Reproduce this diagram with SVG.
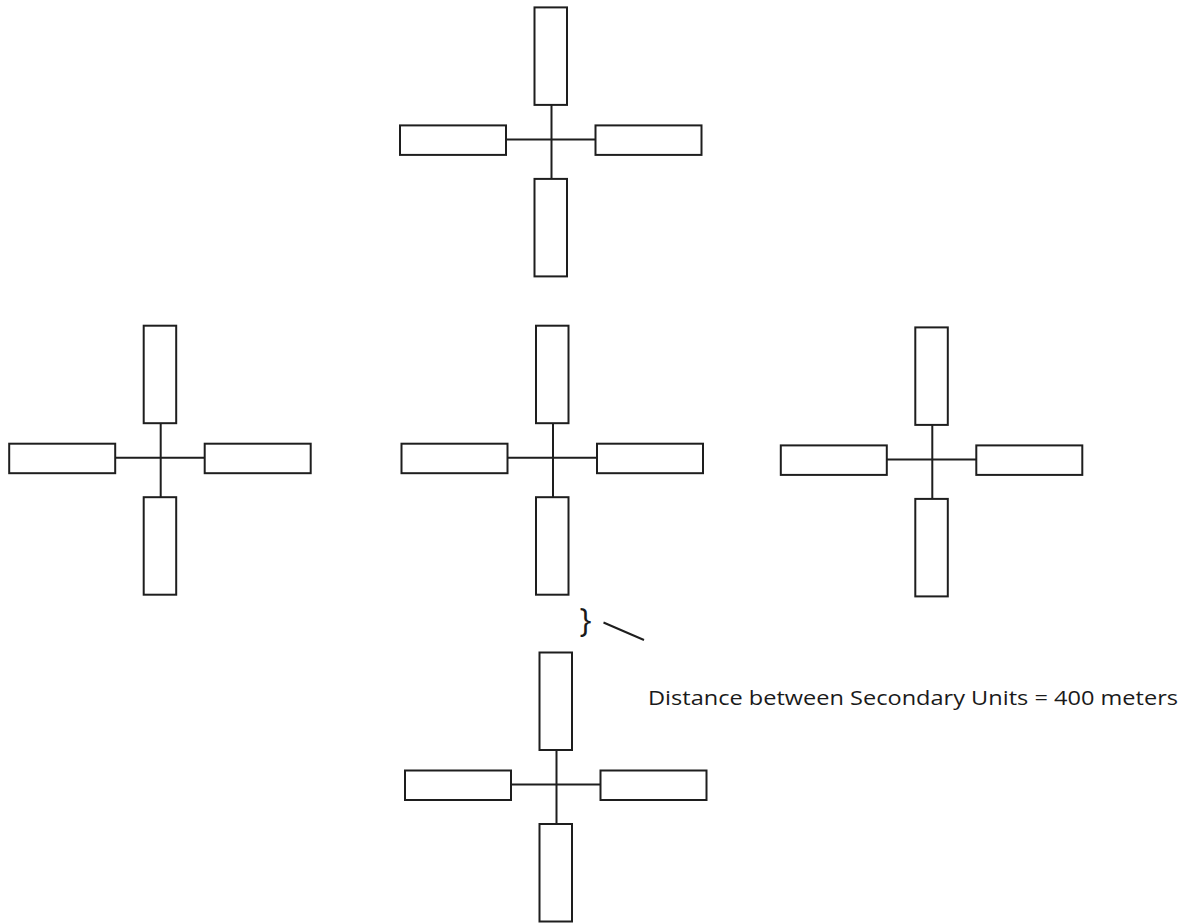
<svg xmlns="http://www.w3.org/2000/svg" width="1188" height="923" viewBox="0 0 1188 923">
  <style>
    .arm { fill: #ffffff; stroke: #1e1e1e; stroke-width: 2; }
    .link { stroke: #1e1e1e; stroke-width: 2; fill: none; }
    .label { font-family: "Open Sans", "Liberation Sans", Arial, sans-serif; fill: #1a1a1a; }
  </style>
  <defs>
    <g id="arms">
      <rect class="arm" x="-17" y="-132" width="32.5" height="97.5"/>
      <rect class="arm" x="-17" y="39.5" width="32.5" height="97.5"/>
      <rect class="arm" x="-151.5" y="-14" width="106" height="29.5"/>
      <rect class="arm" x="44" y="-14" width="106" height="29.5"/>
    </g>
    <path id="hub" d="M0,-34.5 V39.5 M-45.5,0 H44"/>
  </defs>
  <rect width="1188" height="923" fill="#ffffff"/>

  <g id="connectors">
    <use href="#hub" class="link" transform="translate(551.5,139.4)"/>
    <use href="#hub" class="link" transform="translate(160.7,457.7)"/>
    <use href="#hub" class="link" transform="translate(553,457.7)"/>
    <use href="#hub" class="link" transform="translate(932.3,459.4)"/>
    <use href="#hub" class="link" transform="translate(556.5,784.5)"/>
    <line class="link" x1="603.5" y1="622.5" x2="644" y2="640" stroke-width="1.5"/>
  </g>

  <g id="unit-top" transform="translate(551.5,139.4)"><use href="#arms"/></g>
  <g id="unit-left" transform="translate(160.7,457.7)"><use href="#arms"/></g>
  <g id="unit-center" transform="translate(553,457.7)"><use href="#arms"/></g>
  <g id="unit-right" transform="translate(932.3,459.4)"><use href="#arms"/></g>
  <g id="unit-bottom" transform="translate(556.5,784.5)"><use href="#arms"/></g>

  <g id="annotation">
    <text class="label" x="579.5" y="632" font-size="32">}</text>
    <text class="label" x="648" y="705" font-size="20.5" textLength="530" lengthAdjust="spacingAndGlyphs">Distance between Secondary Units = 400 meters</text>
  </g>
</svg>
